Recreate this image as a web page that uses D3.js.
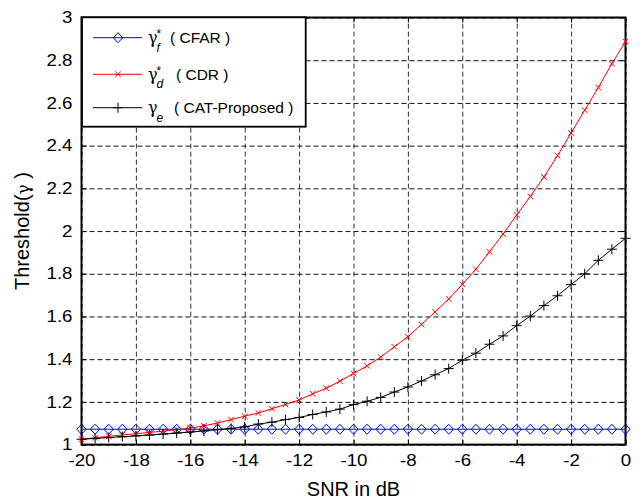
<!DOCTYPE html>
<html>
<head>
<meta charset="utf-8">
<script src="https://cdn.jsdelivr.net/npm/d3@7"></script>
<style>
  body { margin: 0; background: #fff; }
  text { font-family: "Liberation Sans", Arial, sans-serif; }
</style>
</head>
<body>
<svg width="644" height="501"></svg>
<script>
// SNR in dB, one marker every 0.5 dB
const snrDb = [-20, -19.5, -19, -18.5, -18, -17.5, -17, -16.5, -16, -15.5,
               -15, -14.5, -14, -13.5, -13, -12.5, -12, -11.5, -11, -10.5,
               -10, -9.5, -9, -8.5, -8, -7.5, -7, -6.5, -6, -5.5,
               -5, -4.5, -4, -3.5, -3, -2.5, -2, -1.5, -1, -0.5, 0];

// gamma_f* (CFAR) - flat
const cfar = [1.072, 1.072, 1.072, 1.072, 1.072, 1.072, 1.072, 1.072, 1.072, 1.072,
              1.072, 1.072, 1.072, 1.072, 1.072, 1.072, 1.072, 1.072, 1.072, 1.072,
              1.072, 1.072, 1.072, 1.072, 1.072, 1.072, 1.072, 1.072, 1.072, 1.072,
              1.072, 1.072, 1.072, 1.072, 1.072, 1.072, 1.072, 1.072, 1.072, 1.072, 1.072];

// gamma_d* (CDR)
const cdr = [1.025, 1.032, 1.039, 1.045, 1.051, 1.057, 1.063, 1.070, 1.077, 1.088,
             1.101, 1.117, 1.133, 1.148, 1.168, 1.188, 1.209, 1.238, 1.264, 1.297,
             1.333, 1.369, 1.410, 1.458, 1.505, 1.563, 1.621, 1.682, 1.750, 1.821,
             1.903, 1.986, 2.075, 2.162, 2.253, 2.353, 2.459, 2.566, 2.672, 2.784, 2.887];

// gamma_e (CAT-Proposed)
const catProp = [1.025, 1.029, 1.033, 1.037, 1.041, 1.045, 1.049, 1.054, 1.059, 1.064,
                 1.070, 1.076, 1.083, 1.096, 1.105, 1.117, 1.127, 1.141, 1.153, 1.166,
                 1.187, 1.203, 1.221, 1.246, 1.270, 1.298, 1.327, 1.356, 1.395, 1.428,
                 1.470, 1.509, 1.557, 1.602, 1.651, 1.697, 1.749, 1.800, 1.863, 1.915, 1.966];

const xTicks = [-20, -18, -16, -14, -12, -10, -8, -6, -4, -2, 0];
const yTicks = [1, 1.2, 1.4, 1.6, 1.8, 2, 2.2, 2.4, 2.6, 2.8, 3];

const svg = d3.select("svg");
const pL = 81.5, pR = 625.5, pT = 17.5, pB = 444.6;
const stretch = 1.17; // tick labels in the figure are a bit wide

const x = d3.scaleLinear().domain([-20, 0]).range([pL, pR]);
const y = d3.scaleLinear().domain([1, 3]).range([pB, pT]);

// dashed grid
svg.append("g")
   .attr("transform", "translate(0," + pB + ")")
   .call(d3.axisBottom(x).tickValues(xTicks).tickSize(-(pB - pT)).tickFormat(""))
   .call(g => g.select(".domain").remove())
   .selectAll("line")
   .attr("stroke", "#333")
   .attr("stroke-dasharray", "5,3");

svg.append("g")
   .attr("transform", "translate(" + pL + ",0)")
   .call(d3.axisLeft(y).tickValues(yTicks).tickSize(-(pR - pL)).tickFormat(""))
   .call(g => g.select(".domain").remove())
   .selectAll("line")
   .attr("stroke", "#111")
   .attr("stroke-dasharray", "5,3");

// axes with inward ticks on all four sides
const xb = svg.append("g")
   .attr("transform", "translate(0," + pB + ")")
   .call(d3.axisBottom(x).tickValues(xTicks).tickSizeInner(-5).tickSizeOuter(0).tickPadding(10.5).tickFormat(d => d));
const yl = svg.append("g")
   .attr("transform", "translate(" + pL + ",0)")
   .call(d3.axisLeft(y).tickValues(yTicks).tickSizeInner(-5).tickSizeOuter(0).tickPadding(9).tickFormat(d => d));
svg.append("g")
   .attr("transform", "translate(0," + pT + ")")
   .call(d3.axisTop(x).tickValues(xTicks).tickSizeInner(-5).tickSizeOuter(0).tickFormat(""));
svg.append("g")
   .attr("transform", "translate(" + pR + ",0)")
   .call(d3.axisRight(y).tickValues(yTicks).tickSizeInner(-5).tickSizeOuter(0).tickFormat(""));

svg.selectAll(".domain").remove();
svg.selectAll(".tick line").filter(function() { return !this.getAttribute("stroke-dasharray"); })
   .attr("stroke", "#000");
xb.attr("font-family", null);
yl.attr("font-family", null);
xb.selectAll("text")
  .attr("font-size", 16).attr("fill", "#000")
  .attr("transform", "scale(" + stretch + ",1)");
yl.selectAll("text")
  .attr("font-size", 16).attr("fill", "#000")
  .attr("x", -9 / stretch)
  .attr("transform", "scale(" + stretch + ",1)");

// frame
svg.append("rect")
   .attr("x", pL).attr("y", pT)
   .attr("width", pR - pL).attr("height", pB - pT)
   .attr("fill", "none").attr("stroke", "#000").attr("stroke-width", 2);

// series
const series = [
  { name: "CFAR", values: cfar, color: "#0000ff", marker: "diamond" },
  { name: "CDR", values: cdr, color: "#ff0000", marker: "cross" },
  { name: "CAT", values: catProp, color: "#000000", marker: "plus" }
];

const markerPath = {
  diamond: "M0,-5L4.7,0L0,5L-4.7,0Z",
  cross: "M-2.8,-2.8L2.8,2.8M-2.8,2.8L2.8,-2.8",
  plus: "M-5,0L5,0M0,-5L0,5"
};

const line = d3.line().x((d, i) => x(snrDb[i])).y(d => y(d));

series.forEach(s => {
  svg.append("path")
     .datum(s.values)
     .attr("d", line)
     .attr("fill", "none")
     .attr("stroke", s.color)
     .attr("stroke-width", 1);
  svg.append("g").selectAll("path")
     .data(s.values)
     .enter().append("path")
     .attr("transform", (d, i) => "translate(" + x(snrDb[i]) + "," + y(d) + ")")
     .attr("d", markerPath[s.marker])
     .attr("fill", "none")
     .attr("stroke", s.color)
     .attr("stroke-width", 1);
});

// axis labels
svg.append("text")
   .attr("x", (pL + pR) / 2)
   .attr("y", 496)
   .attr("text-anchor", "middle")
   .attr("font-size", 20)
   .text("SNR in dB");

const yt = svg.append("text")
   .attr("transform", "translate(29,231) rotate(-90)")
   .attr("text-anchor", "middle")
   .attr("font-size", 20);
yt.append("tspan").text("Threshold(");
yt.append("tspan").attr("font-family", "DejaVu Serif").attr("font-size", 17).text("γ");
yt.append("tspan").text(" )");

// legend
const lg = svg.append("g");
lg.append("rect")
  .attr("x", 82).attr("y", 17.3)
  .attr("width", 223.7).attr("height", 109.4)
  .attr("fill", "#fff").attr("stroke", "#000").attr("stroke-width", 1.8);

const legendRows = [
  { y: 37.7, color: "#0000ff", marker: "diamond", sub: "f", sup: "*", label: "( CFAR )", lx: 170 },
  { y: 74.3, color: "#ff0000", marker: "cross", sub: "d", sup: "*", label: "( CDR )", lx: 176 },
  { y: 107.7, color: "#000000", marker: "plus", sub: "e", sup: "", label: "( CAT-Proposed )", lx: 174 }
];

legendRows.forEach(r => {
  lg.append("line")
    .attr("x1", 93).attr("x2", 142).attr("y1", r.y).attr("y2", r.y)
    .attr("stroke", r.color).attr("stroke-width", 1);
  lg.append("path")
    .attr("transform", "translate(118," + r.y + ")")
    .attr("d", markerPath[r.marker])
    .attr("fill", "none").attr("stroke", r.color).attr("stroke-width", 1);

  const t = lg.append("text")
    .attr("x", 148).attr("y", r.y + 5.5)
    .attr("font-size", 15.5);
  t.append("tspan")
    .attr("font-family", "DejaVu Serif").attr("font-size", 16)
    .text("γ");
  if (r.sup) {
    t.append("tspan")
      .attr("x", 156.5).attr("y", r.y + 0.5)
      .attr("font-size", 12)
      .text(r.sup);
  }
  t.append("tspan")
    .attr("x", 156.5).attr("y", r.y + 14)
    .attr("font-size", 12).attr("font-style", "italic")
    .text(r.sub);
  t.append("tspan")
    .attr("x", r.lx).attr("y", r.y + 5.5)
    .text(r.label);
});
</script>
</body>
</html>
